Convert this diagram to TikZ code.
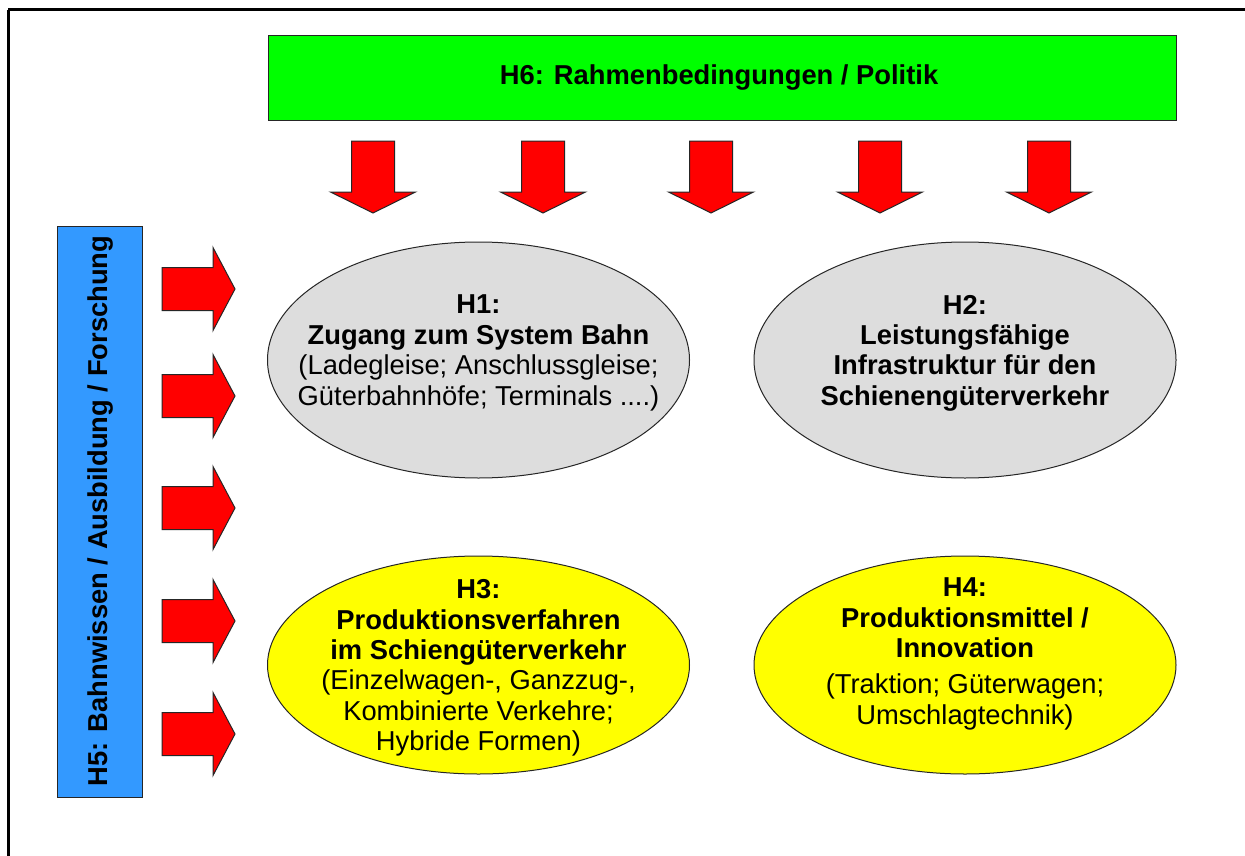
\documentclass[tikz,border=0pt]{standalone}
\usepackage{fontspec}
\setmainfont{Liberation Sans}
\usetikzlibrary{shapes.geometric}
\tikzset{
  x=0.75pt, y=-0.75pt,
  txt/.style={align=center, inner sep=0pt, font=\fontsize{20.5}{22.8}\selectfont},
  ell/.style={ellipse, draw=black!85, line width=0.75pt, minimum width=316.5pt, minimum height=177pt, inner sep=0pt},
  box/.style={rectangle, draw=black!85, line width=0.75pt, inner sep=0pt},
  arrowfill/.style={fill=arrred, draw=black!85, line width=0.75pt, line join=miter},
  darr/.pic={\path[arrowfill] (-21.5,0) -- (21.5,0) -- (21.5,51) -- (42.5,51) -- (0,72) -- (-42.5,51) -- (-21.5,51) -- cycle;},
  rarr/.pic={\path[arrowfill] (0,-21.5) -- (51,-21.5) -- (51,-41.5) -- (73,0) -- (51,41.5) -- (51,21.5) -- (0,21.5) -- cycle;}
}
\definecolor{arrred}{HTML}{FF0000}
\definecolor{hgreen}{HTML}{00FF00}
\definecolor{hblue}{HTML}{3399FF}
\definecolor{hgray}{HTML}{DDDDDD}
\definecolor{hyellow}{HTML}{FFFF00}
\begin{document}
\begin{tikzpicture}
\useasboundingbox (0,0) rectangle (1245,856);
\fill[white] (-20,-20) rectangle (1280,880);
% frame (cut off at right and bottom)
\draw[line width=2.25pt] (8,10) -- (1280,10);
\draw[line width=2.25pt] (8,10) -- (8,880);

% H6 box
\node[box, fill=hgreen, minimum width=681pt, minimum height=63pt] (h6) at (722,78) {};
\node[txt] (h6t) at (719,77) {\bfseries H6: Rahmenbedingungen / Politik};

% H5 box
\node[box, fill=hblue, minimum width=63.75pt, minimum height=428.25pt] (h5) at (99.5,511.5) {};
\node[txt, rotate=90] (h5t) at (100,511) {\bfseries H5: Bahnwissen / Ausbildung / Forschung};

% down arrows
\foreach \xx in {373,543,711,880,1049} {
  \pic at (\xx,141) {darr};
}
% right arrows
\foreach \yy in {289,396,508,621,734} {
  \pic at (162,\yy) {rarr};
}

% ellipses
\node[ell, fill=hgray] (h1) at (478.5,360) {};
\node[txt] (h1t) at (478.5,353) {\bfseries H1:\\ \bfseries Zugang zum System Bahn\\(Ladegleise; Anschlussgleise;\\Güterbahnhöfe; Terminals ....)};

\node[ell, fill=hgray] (h2) at (965,360) {};
\node[txt] (h2t) at (965,353) {\bfseries H2:\\ \bfseries Leistungsfähige\\ \bfseries Infrastruktur für den\\ \bfseries Schienengüterverkehr};

\node[ell, fill=hyellow, minimum height=163.5pt] (h3) at (478.5,665) {};
\node[txt] (h3t) at (478.5,668) {\bfseries H3:\\ \bfseries Produktionsverfahren\\ \bfseries im Schiengüterverkehr\\(Einzelwagen-, Ganzzug-,\\Kombinierte Verkehre;\\Hybride Formen)};

\node[ell, fill=hyellow, minimum height=163.5pt] (h4) at (965,665) {};
\node[txt] (h4t) at (965,654) {\bfseries H4:\\ \bfseries Produktionsmittel /\\ \bfseries Innovation\\[4.5pt](Traktion; Güterwagen;\\Umschlagtechnik)};
\end{tikzpicture}
\end{document}
